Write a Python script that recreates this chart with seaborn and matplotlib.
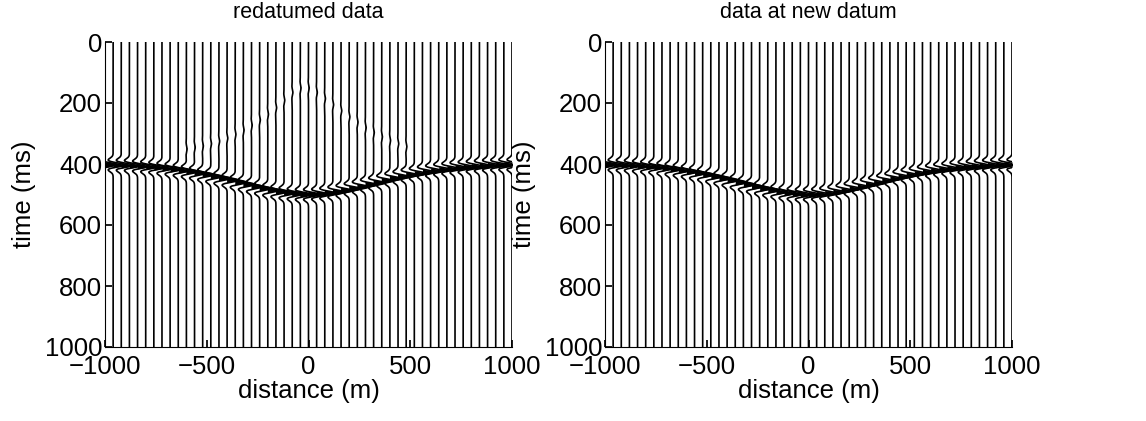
import numpy as np
import pandas as pd
import matplotlib
matplotlib.use("Agg")
import matplotlib.pyplot as plt
import seaborn as sns

# ---- data ----
trace_x = list(range(-1000, 1001, 40))  # receiver positions (m)
event_t = [402, 403, 404, 405, 407, 409, 411, 414, 417, 421, 425, 430, 435, 441,
           447, 453, 460, 467, 474, 480, 486, 491, 495, 498, 500, 500, 499, 496,
           492, 487, 481, 475, 468, 462, 455, 448, 442, 436, 431, 426, 422, 418,
           415, 412, 410, 408, 406, 404, 403, 402, 402]  # ms
artifact_x = list(range(-600, 481, 40))
artifact_t = [350, 345, 340, 333, 325, 315, 302, 288, 272, 255, 236, 215, 190,
              165, 150, 150, 165, 185, 205, 225, 245, 262, 280, 296, 310, 322,
              333, 342]
titles = ["redatumed data", "data at new datum"]
x_ticks = [-1000, -500, 0, 500, 1000]
y_ticks = [0, 200, 400, 600, 800, 1000]

t = np.arange(0, 1001, 2.0)
f0 = 24.0


def ricker(tt, tc, f):
    a = (np.pi * f * (tt - tc) / 1000.0) ** 2
    return (1 - 2 * a) * np.exp(-a)


def build(with_artifact):
    rows = []
    for i, (x0, te) in enumerate(zip(trace_x, event_t)):
        s = ricker(t, te, f0)
        if with_artifact and x0 in artifact_x:
            ta = artifact_t[artifact_x.index(x0)]
            s = s + 0.06 * ricker(t, ta, 18.0)
        rows.append(pd.DataFrame({"trace": i, "x0": x0, "t": t, "amp": s}))
    return pd.concat(rows, ignore_index=True)


sns.set_theme(style="white")
plt.rcParams["font.family"] = ["Liberation Sans", "DejaVu Sans"]
plt.rcParams["axes.unicode_minus"] = True
plt.rcParams["text.color"] = "black"
plt.rcParams["axes.labelcolor"] = "black"
plt.rcParams["xtick.color"] = "black"
plt.rcParams["ytick.color"] = "black"

fig = plt.figure(figsize=(11.46, 4.21), dpi=100)
lefts = [105 / 1146, 605 / 1146]
width = 407 / 1146
bottom = 1 - 347 / 421
height = 305 / 421
gain = 55.0
fs = 18.5

for k in range(2):
    ax = fig.add_axes([lefts[k], bottom, width, height])
    df = build(k == 0)
    df["xpos"] = df["x0"] + gain * df["amp"]
    for i, g in df.groupby("trace"):
        ax.fill_betweenx(g["t"], g["x0"], g["xpos"], where=g["amp"] > 0,
                         color="black", lw=0, interpolate=True)
    sns.lineplot(data=df, x="xpos", y="t", units="trace", estimator=None,
                 orient="y", sort=False, color="black", lw=1.2, ax=ax,
                 legend=False)
    ax.set_xlim(-1000, 1000)
    ax.set_ylim(1000, 0)
    ax.set_xticks(x_ticks)
    ax.set_yticks(y_ticks)
    ax.set_xticklabels([f"{v}".replace("-", "\u2212") for v in x_ticks])
    ax.tick_params(direction="in", length=5, labelsize=fs, colors="black",
                   labelcolor="black", left=True, bottom=True)
    ax.tick_params(axis="y", pad=2)
    ax.tick_params(axis="x", pad=6)
    ax.set_xlabel("distance (m)", fontsize=fs, labelpad=0, color="black")
    ax.set_ylabel("time (ms)", fontsize=fs, labelpad=6, color="black")
    ax.set_title(titles[k], fontsize=15.5, pad=17, color="black")
    for sp in ["top", "right"]:
        ax.spines[sp].set_visible(False)
    for sp in ["left", "bottom"]:
        ax.spines[sp].set_color("black")
        ax.spines[sp].set_linewidth(0.8)

fig.savefig("out.png", dpi=100)
